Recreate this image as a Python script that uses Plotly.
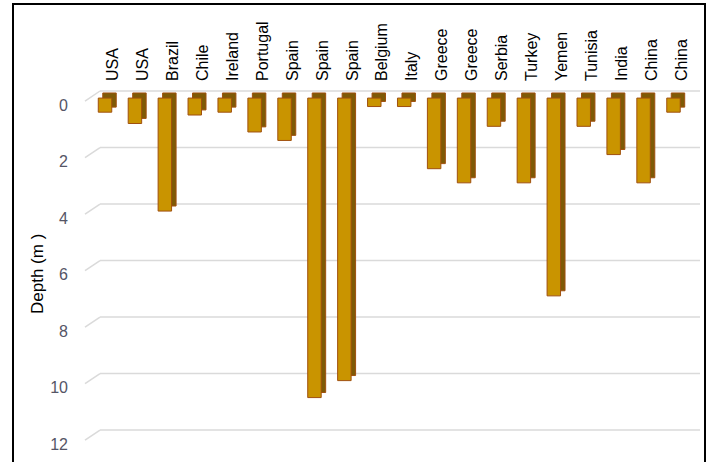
import plotly.graph_objects as go

countries = ["USA", "USA", "Brazil", "Chile", "Ireland", "Portugal", "Spain", "Spain",
             "Spain", "Belgium", "Italy", "Greece", "Greece", "Serbia", "Turkey", "Yemen",
             "Tunisia", "India", "China", "China"]
depth_m = [0.5, 0.9, 4.0, 0.6, 0.5, 1.2, 1.5, 10.6, 10.0, 0.3, 0.3, 2.5, 3.0, 1.0, 3.0,
           7.0, 1.0, 2.0, 3.0, 0.5]
y_ticks = [0, 2, 4, 6, 8, 10, 12]

pos = list(range(len(countries)))

FONT = "Liberation Sans, Arial, sans-serif"
FRONT = "#C99400"
SIDE = "#7E5A06"
EDGE = "#A0500E"

fig = go.Figure()
# darker side/top face (pseudo 3D depth)
fig.add_trace(go.Bar(x=pos, y=depth_m, base=0.07, width=0.45, offset=-0.075,
                     marker=dict(color=SIDE, line=dict(color=EDGE, width=1)),
                     hoverinfo="skip", showlegend=False))
# front face
fig.add_trace(go.Bar(x=pos, y=depth_m, base=0.25, width=0.45, offset=-0.225,
                     marker=dict(color=FRONT, line=dict(color=EDGE, width=1)),
                     showlegend=False))

L, R, T, B = 85, 10, 86, 0
W = 710 - L - R
gx = 15 / W  # horizontal offset of the floor diagonal in paper units
shapes = []
for t in y_ticks:
    shapes.append(dict(type="line", xref="paper", yref="y", x0=gx, x1=1, y0=t, y1=t,
                       line=dict(color="#DADADA", width=1.5), layer="below"))
    shapes.append(dict(type="line", xref="paper", yref="y", x0=0, x1=gx, y0=t + 0.36, y1=t,
                       line=dict(color="#DADADA", width=1.5), layer="below"))
# outer chart frame
shapes.append(dict(type="rect", xref="paper", yref="paper",
                   x0=(13 - L) / W, x1=(705 - L) / W,
                   y0=-0.2, y1=1 + (T - 4) / (462 - T - B),
                   line=dict(color="black", width=2)))

fig.update_layout(
    width=710, height=462,
    margin=dict(l=L, r=R, t=T, b=B),
    paper_bgcolor="white", plot_bgcolor="white",
    barmode="overlay",
    shapes=shapes,
    font=dict(family=FONT),
    xaxis=dict(side="top", range=[-0.669, 19.886], tickmode="array", tickvals=pos,
               ticktext=countries, tickangle=-90, showgrid=False, zeroline=False,
               showline=False, ticks="", ticklabelshift=8, ticklabelstandoff=4,
               tickfont=dict(size=16, color="black", family=FONT)),
    yaxis=dict(range=[13.13, -0.177], tickmode="array", tickvals=y_ticks,
               showgrid=False, zeroline=False, showline=False, ticks="",
               ticklabelshift=-14, ticklabelstandoff=16,
               tickfont=dict(size=16, color="#555566", family=FONT)),
    annotations=[dict(text="Depth (m )", textangle=-90, xref="paper", yref="paper",
                      x=(37 - L) / W, y=0.5, xanchor="center", yanchor="middle",
                      showarrow=False,
                      font=dict(size=17, color="black", family=FONT))],
)

fig.write_html("out.html")
